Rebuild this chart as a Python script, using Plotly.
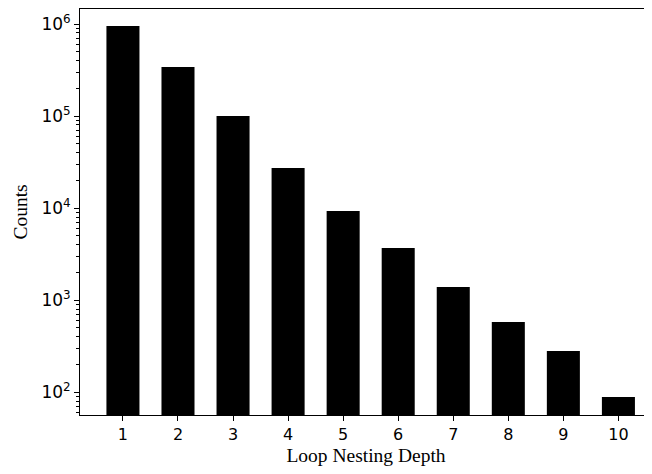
import plotly.graph_objects as go

depths = [1, 2, 3, 4, 5, 6, 7, 8, 9, 10]
counts = [950000, 341000, 100000, 27300, 9330, 3700, 1395, 581, 281, 89]
ytick_vals = [100, 1000, 10000, 100000, 1000000]
ytick_text = ["10<sup>2</sup>", "10<sup>3</sup>", "10<sup>4</sup>", "10<sup>5</sup>", "10<sup>6</sup>"]
minor_vals = [m * 10 ** e for e in range(1, 7) for m in range(2, 10)]

fig = go.Figure()
fig.add_trace(go.Bar(x=depths, y=counts, width=0.6,
                     marker=dict(color="black", line=dict(width=0))))

YR = [1.753, 6.163]

# page body has an 8px default margin, so the figure is 8px smaller
fig.update_layout(
    width=644, height=466,
    margin=dict(l=72, r=0, t=1, b=59),
    paper_bgcolor="white", plot_bgcolor="white",
    showlegend=False,
    font=dict(family="DejaVu Sans", size=16, color="black"),
    xaxis=dict(
        range=[0.22, 10.61],
        tickvals=depths, ticktext=[str(d) for d in depths],
        ticks="outside", ticklen=5, tickwidth=1, tickcolor="black",
        showline=True, linecolor="black", linewidth=1, mirror=True,
        showgrid=False, zeroline=False,
        tickfont=dict(family="DejaVu Sans", size=16),
        title=dict(text="Loop Nesting Depth",
                   font=dict(family="Liberation Serif", size=19.5), standoff=5),
    ),
    yaxis=dict(
        type="log", range=YR,
        tickvals=ytick_vals, ticktext=ytick_text,
        ticks="outside", ticklen=5, tickwidth=1, tickcolor="black",
        minor=dict(tickmode="array", tickvals=minor_vals, ticks="outside",
                   ticklen=3, tickwidth=1, tickcolor="black", showgrid=False),
        showline=True, linecolor="black", linewidth=1,
        showgrid=False, zeroline=False,
        tickfont=dict(family="DejaVu Sans", size=17),
        title=dict(text="Counts", font=dict(family="Liberation Serif", size=19.5), standoff=8),
    ),
)

fig.write_html("out.html")
